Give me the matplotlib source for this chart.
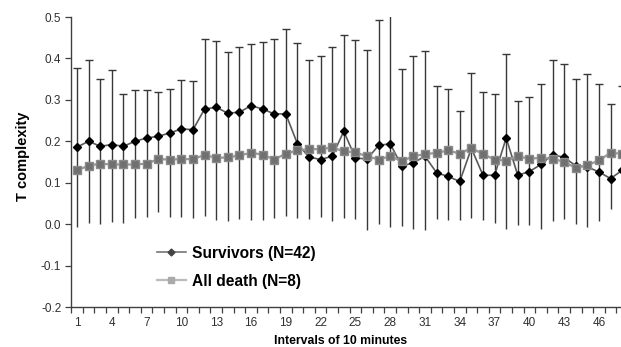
import numpy as np
import matplotlib
matplotlib.use("Agg")
import matplotlib.pyplot as plt
from matplotlib.ticker import FixedLocator, FormatStrFormatter

plt.rcParams['font.family'] = ['Liberation Sans', 'DejaVu Sans']

# intervals of 10 minutes (last one is cut by the right edge)
intervals = np.arange(1, 49)

survivors = [0.186, 0.200, 0.188, 0.192, 0.188, 0.200, 0.208, 0.212, 0.220, 0.230,
             0.228, 0.278, 0.282, 0.268, 0.270, 0.286, 0.278, 0.266, 0.266, 0.194,
             0.162, 0.156, 0.164, 0.224, 0.160, 0.157, 0.190, 0.194, 0.140, 0.148,
             0.164, 0.124, 0.115, 0.103, 0.183, 0.118, 0.118, 0.208, 0.118, 0.127,
             0.144, 0.168, 0.161, 0.141, 0.138, 0.126, 0.110, 0.130]

all_death = [0.130, 0.141, 0.146, 0.144, 0.144, 0.144, 0.146, 0.157, 0.156, 0.157,
             0.157, 0.167, 0.160, 0.161, 0.166, 0.172, 0.168, 0.156, 0.170, 0.178,
             0.181, 0.181, 0.185, 0.176, 0.173, 0.164, 0.156, 0.164, 0.152, 0.164,
             0.169, 0.172, 0.178, 0.170, 0.184, 0.169, 0.156, 0.153, 0.164, 0.158,
             0.160, 0.158, 0.150, 0.136, 0.142, 0.154, 0.172, 0.170]

# upper and lower ends of the error bars
bar_top = [0.377, 0.395, 0.351, 0.371, 0.313, 0.323, 0.323, 0.318, 0.327, 0.349,
           0.346, 0.448, 0.443, 0.416, 0.428, 0.436, 0.440, 0.446, 0.470, 0.438,
           0.397, 0.405, 0.428, 0.456, 0.445, 0.420, 0.492, 0.550, 0.375, 0.405,
           0.417, 0.333, 0.325, 0.272, 0.366, 0.318, 0.313, 0.411, 0.298, 0.307,
           0.338, 0.397, 0.387, 0.351, 0.362, 0.338, 0.290, 0.333]

bar_bottom = [-0.007, 0.003, 0.000, 0.005, 0.003, 0.015, 0.017, 0.029, 0.017, 0.017,
              0.015, 0.020, 0.011, 0.007, 0.013, 0.009, 0.011, 0.015, 0.020, 0.015,
              0.013, 0.017, 0.007, 0.015, 0.013, -0.013, 0.000, -0.007, -0.005, -0.011,
              -0.013, 0.013, 0.009, 0.009, 0.015, 0.009, 0.003, -0.011, -0.003, -0.003,
              -0.011, 0.007, 0.013, 0.000, -0.008, 0.007, 0.037, 0.030]

label_ticks = np.arange(1, 47, 3)

surv = np.array(survivors)
yerr = [surv - np.array(bar_bottom), np.array(bar_top) - surv]

fig = plt.figure(figsize=(6.21, 3.47), dpi=100)
ax = fig.add_axes([71/621, 40/347, 550/621, 290/347])

eb = ax.errorbar(intervals, surv, yerr=yerr, fmt='none', ecolor='#383838',
                 elinewidth=1.0, capsize=2.6, capthick=1.0, zorder=2)
eb[1][0].set_visible(False)  # no cap at the bottom

ax.plot(intervals, survivors, color='#5a5a5a', lw=1.2, marker='D', ms=4.2,
        mfc='black', mec='black', label='Survivors (N=42)', zorder=3, clip_on=False)
ax.plot(intervals, all_death, color='#999999', lw=1.6, marker='s', ms=5.8,
        mfc='#707070', mec='#8a8a8a', label='All death (N=8)', zorder=4, clip_on=False)

ax.set_xlim(0.48, 47.9)
ax.set_ylim(-0.2, 0.5)
ax.set_yticks(np.arange(-0.2, 0.51, 0.1))
ax.yaxis.set_major_formatter(FormatStrFormatter('%.1f'))
ax.set_xticks(label_ticks)
ax.set_xticklabels([str(t) for t in label_ticks])
ax.xaxis.set_minor_locator(FixedLocator(np.arange(0.5, 48, 1)))
ax.tick_params(axis='x', which='major', length=0, pad=7, labelsize=8.5, labelcolor='#303030')
ax.tick_params(axis='x', which='minor', length=4, width=0.9, color='#404040')
ax.tick_params(axis='y', length=4, width=0.9, color='#404040', labelsize=8.5,
               labelcolor='#303030', pad=3)

for s in ['top', 'right']:
    ax.spines[s].set_visible(False)
for s in ['left', 'bottom']:
    ax.spines[s].set_color('#404040')
    ax.spines[s].set_linewidth(1.0)

ax.set_xlabel('Intervals of 10 minutes', fontsize=8.8, fontweight='bold')
ax.xaxis.set_label_coords(0.49, -0.095)
ax.set_ylabel('T complexity', fontsize=10.5, fontweight='bold')
ax.yaxis.set_label_coords(-0.075, 0.52)

leg = ax.legend(loc='upper left', bbox_to_anchor=(143/621, 0.332), bbox_transform=fig.transFigure,
                frameon=False, prop={'size': 11.2, 'weight': 'bold'}, handlelength=1.85,
                handletextpad=0.4, labelspacing=0.82)
# legend keys are drawn lighter than the plotted series
h_surv, h_death = leg.legend_handles
h_surv.set_color('#777777')
h_surv.set_markerfacecolor('#444444')
h_surv.set_markeredgecolor('#444444')
h_surv.set_markersize(3.5)
h_death.set_color('#bbbbbb')
h_death.set_markerfacecolor('#aaaaaa')
h_death.set_markeredgecolor('#aaaaaa')
h_death.set_markersize(4.5)

fig.savefig('out.png', dpi=100)
